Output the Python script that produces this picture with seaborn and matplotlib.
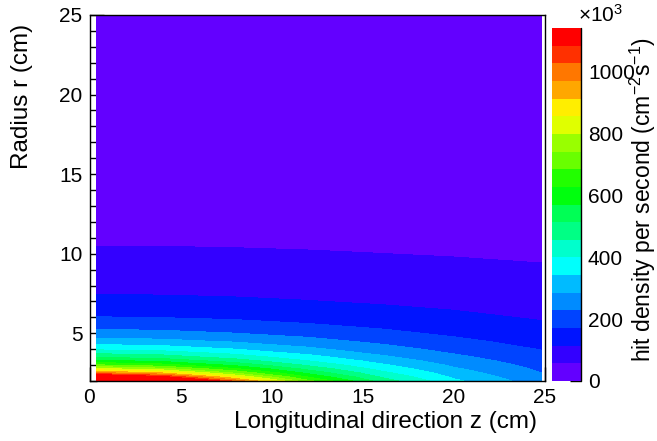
"""
Hit density per second vs radius and longitudinal position (ROOT-style contour map)
"""

import colorsys
import numpy as np
import matplotlib
matplotlib.use('Agg')
import matplotlib.pyplot as plt
from matplotlib.colors import ListedColormap, Normalize
from matplotlib.ticker import MultipleLocator
import seaborn as sns

# ==================== Data ====================
# longitudinal positions (cm), columns of the table
z_cm = [0.4, 4, 8, 12, 16, 20, 24.8]
# radii (cm), rows of the table
r_cm = [2.0, 2.25, 2.5, 2.75, 3.0, 3.25, 3.5, 4.0, 4.5, 5.0, 5.5, 6.0,
        7.0, 8.0, 9.0, 10.0, 11.0, 12.5, 15.0, 20.0, 25.0]
# hit density in units of 1e3 cm^-2 s^-1 (row = radius, column = z)
density_k = [
    [1555, 1371, 1009, 700, 490, 354, 250],
    [1229, 1111, 861, 626, 453, 334, 240],
    [996, 917, 739, 559, 417, 314, 229],
    [823, 768, 640, 500, 383, 294, 219],
    [692, 653, 557, 448, 352, 276, 208],
    [590, 561, 489, 403, 323, 258, 198],
    [508, 487, 432, 363, 297, 241, 188],
    [389, 377, 343, 298, 252, 210, 169],
    [308, 300, 278, 248, 215, 184, 151],
    [249, 244, 229, 208, 185, 161, 136],
    [206, 202, 192, 177, 160, 142, 122],
    [173, 170, 163, 152, 139, 126, 109],
    [127, 126, 122, 116, 108, 99.5, 89.1],
    [97.3, 96.5, 94.1, 90.4, 85.7, 80.3, 73.4],
    [76.9, 76.4, 74.9, 72.5, 69.5, 65.9, 61.1],
    [62.3, 62.0, 61.0, 59.4, 57.3, 54.8, 51.5],
    [51.5, 51.3, 50.6, 49.5, 48.0, 46.3, 43.9],
    [39.9, 39.7, 39.3, 38.7, 37.8, 36.7, 35.2],
    [27.7, 27.6, 27.4, 27.1, 26.7, 26.1, 25.3],
    [15.6, 15.6, 15.5, 15.4, 15.2, 15.1, 14.8],
    [10.0, 10.0, 9.9, 9.9, 9.8, 9.8, 9.6],
]
zmax_k = 1142
n_levels = 20

# ==================== Style ====================
sns.set_theme(style='ticks')
plt.rcParams['font.family'] = ['Liberation Sans', 'DejaVu Sans']
plt.rcParams['mathtext.default'] = 'regular'
plt.rcParams['text.color'] = 'black'

# ROOT "pretty palette" (HLS hue scan violet -> red), 20 contour colours
hues = []
for i in range(n_levels):
    idx = int((i + 0.99) * 50 / n_levels)
    hues.append(280 - (idx + 1) * 5.6 if idx < 49 else 0.0)
colors = [colorsys.hls_to_rgb(h / 360.0, 0.5, 1.0) for h in hues]
cmap = ListedColormap(colors)
cmap.set_over(colors[-1])
levels = np.linspace(0, zmax_k, n_levels + 1)

# ==================== Plot ====================
W, H = 657, 441
fig = plt.figure(figsize=(W / 100, H / 100), dpi=100)
fig.patch.set_facecolor('white')

ax = fig.add_axes([89.5 / W, 1 - 381 / H, (545 - 89.5) / W, (381 - 15) / H])
ax.set_facecolor('white')

Z, R = np.meshgrid(z_cm, r_cm)
ax.contourf(Z, R, np.array(density_k), levels=levels, cmap=cmap, extend='max')

ax.set_xlim(0, 25)
ax.set_ylim(2, 25)
ax.set_xticks([0, 5, 10, 15, 20, 25])
ax.set_yticks([5, 10, 15, 20, 25])
ax.xaxis.set_minor_locator(MultipleLocator(1))
ax.yaxis.set_minor_locator(MultipleLocator(1))
ax.tick_params(which='major', direction='in', length=10, width=1, color='black',
               labelsize=15, labelcolor='black', pad=5, top=False, right=False)
ax.tick_params(which='minor', direction='in', length=5, width=1, color='black',
               top=False, right=False)
for sp in ax.spines.values():
    sp.set_visible(True)
    sp.set_color('black')
    sp.set_linewidth(1)

# colour bar
cax = fig.add_axes([552 / W, 1 - 381 / H, 29 / W, (381 - 28) / H])
sm = plt.cm.ScalarMappable(norm=Normalize(0, zmax_k), cmap=cmap)
cb = fig.colorbar(sm, cax=cax, boundaries=levels)
cb.outline.set_visible(False)
cb.set_ticks([0, 200, 400, 600, 800, 1000])
cax.tick_params(direction='in', length=8, width=1, color='black',
                labelsize=15, labelcolor='black', pad=5)
cax.plot([1, 1], [0, 1], transform=cax.transAxes, color='black', lw=1, clip_on=False)

# titles
fig.text(385.5 / W, 1 - 422 / H, 'Longitudinal direction z (cm)',
         ha='center', va='center', fontsize=17.5, color='black')
fig.text(22 / W, 1 - 96 / H, 'Radius r (cm)', rotation=90,
         ha='center', va='center', fontsize=17.5, color='black')
fig.text(643 / W, 1 - 200 / H, 'hit density per second (cm$^{-2}$s$^{-1}$)',
         rotation=90, ha='center', va='center', fontsize=16.5, color='black')
fig.text(601 / W, 1 - 15 / H, r'$\times$10$^{3}$', ha='center', va='center',
         fontsize=15, color='black')

plt.savefig('out.png', dpi=100)
plt.close()
